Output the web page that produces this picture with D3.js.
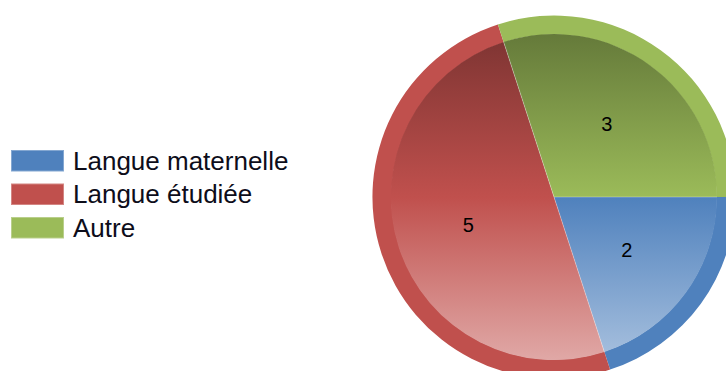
<!DOCTYPE html>
<html>
<head>
<meta charset="utf-8">
<script src="https://cdn.jsdelivr.net/npm/d3@7"></script>
<style>
  html, body { margin: 0; padding: 0; background: #ffffff; }
  svg { display: block; }
</style>
</head>
<body>
<svg id="chart" width="726" height="371"></svg>
<script>
// Répartition des langues
const categories = ["Langue maternelle", "Langue étudiée", "Autre"];
const values = [2, 5, 3];
const colors = ["#4f81bd", "#c0504d", "#9bbb59"];

const cx = 554, cy = 197;
const rOuter = 181.5, rInner = 163;

const svg = d3.select("#chart");
const defs = svg.append("defs");

const data = categories.map((c, i) => ({ name: c, value: values[i], color: colors[i] }));

// Vertical shading per slice: dark at top, base colour at the centre, pale at the bottom
data.forEach((d, i) => {
  const base = d3.rgb(d.color);
  const dark = d3.rgb(base.r * 0.65, base.g * 0.65, base.b * 0.65);
  const light = d3.interpolateRgb(d.color, "#ffffff")(0.5);
  const g = defs.append("linearGradient")
    .attr("id", "shade" + i)
    .attr("gradientUnits", "userSpaceOnUse")
    .attr("x1", 0).attr("x2", 0)
    .attr("y1", -rInner).attr("y2", rInner);
  g.append("stop").attr("offset", "0%").attr("stop-color", dark.formatHex());
  g.append("stop").attr("offset", "50%").attr("stop-color", d.color);
  g.append("stop").attr("offset", "100%").attr("stop-color", light);
});

const pie = d3.pie()
  .value(d => d.value)
  .sort(null)
  .startAngle(Math.PI / 2)
  .endAngle(Math.PI / 2 + 2 * Math.PI);

const arcs = pie(data);

const rimArc = d3.arc().innerRadius(rInner - 0.5).outerRadius(rOuter);
const bodyArc = d3.arc().innerRadius(0).outerRadius(rInner);
const labelArc = d3.arc().innerRadius(0).outerRadius(180);

const gPie = svg.append("g").attr("transform", `translate(${cx},${cy})`);

// outer bevel ring in the plain series colour
gPie.selectAll("path.rim")
  .data(arcs)
  .join("path")
  .attr("class", "rim")
  .attr("d", rimArc)
  .attr("fill", d => d.data.color);

// shaded slice faces
gPie.selectAll("path.body")
  .data(arcs)
  .join("path")
  .attr("class", "body")
  .attr("d", bodyArc)
  .attr("fill", (d, i) => `url(#shade${i})`);

// thin light separators along the slice edges
gPie.selectAll("line.sep")
  .data(arcs)
  .join("line")
  .attr("class", "sep")
  .attr("x1", 0).attr("y1", 0)
  .attr("x2", d => rInner * Math.sin(d.startAngle))
  .attr("y2", d => -rInner * Math.cos(d.startAngle))
  .attr("stroke", "rgba(255,255,255,0.3)")
  .attr("stroke-width", 1);

gPie.selectAll("text.val")
  .data(arcs)
  .join("text")
  .attr("class", "val")
  .attr("transform", d => `translate(${labelArc.centroid(d)})`)
  .attr("text-anchor", "middle")
  .attr("dy", "0.36em")
  .attr("font-family", "Liberation Sans, Arial, sans-serif")
  .attr("font-size", 20)
  .attr("fill", "#000")
  .text(d => d.data.value);

// Legend
const legend = svg.append("g").attr("transform", "translate(11,150)");
const rowH = 33.5;
const rows = legend.selectAll("g.row")
  .data(data)
  .join("g")
  .attr("class", "row")
  .attr("transform", (d, i) => `translate(0,${i * rowH})`);

rows.append("rect")
  .attr("x", 0.5).attr("y", 0.5)
  .attr("width", 52).attr("height", 20.5)
  .attr("fill", d => d.color)
  .attr("stroke", d => d3.interpolateRgb(d.color, "#ffffff")(0.3))
  .attr("stroke-width", 1);

rows.append("text")
  .attr("x", 62)
  .attr("y", 19.5)
  .attr("font-family", "Liberation Sans, Arial, sans-serif")
  .attr("font-size", 26)
  .attr("fill", "#0d0d1a")
  .text(d => d.name);
</script>
</body>
</html>
